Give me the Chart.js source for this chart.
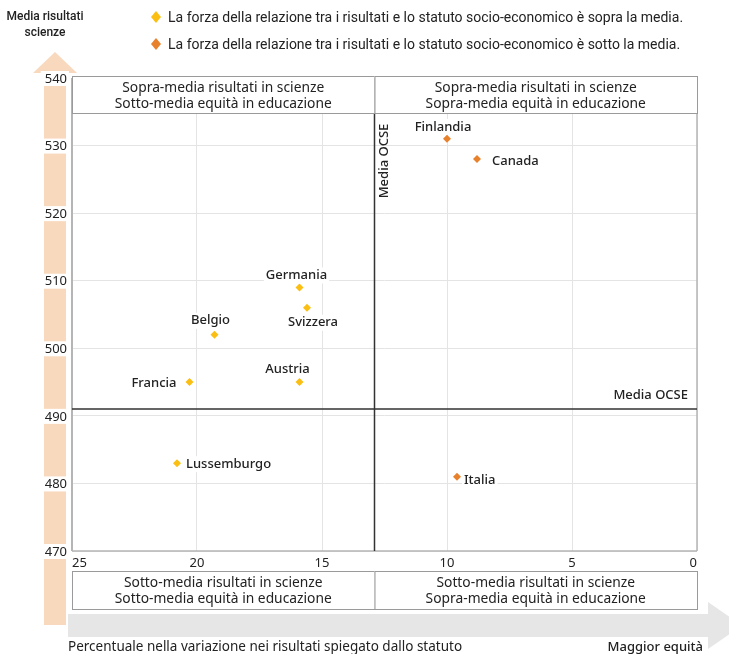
<!DOCTYPE html>
<html>
<head>
<meta charset="utf-8">
<script src="https://cdn.jsdelivr.net/npm/chart.js@4"></script>
<style>
  html, body { margin: 0; padding: 0; background: #fff; }
  #wrap { width: 729px; height: 654px; }
</style>
</head>
<body>
<div id="wrap"><canvas id="chart" width="729" height="654"></canvas></div>
<script>
// Dati
const xTicks = [25, 20, 15, 10, 5, 0];
const yTicks = [470, 480, 490, 500, 510, 520, 530, 540];

const aboveCountries = ['Germania', 'Svizzera', 'Belgio', 'Austria', 'Francia', 'Lussemburgo'];
const aboveEquity    = [15.9, 15.6, 19.3, 15.9, 20.3, 20.8];
const aboveScience   = [509, 506, 502, 495, 495, 483];

const belowCountries = ['Finlandia', 'Canada', 'Italia'];
const belowEquity    = [10.0, 8.8, 9.6];
const belowScience   = [531, 528, 481];

const oecdEquity  = 12.9;
const oecdScience = 491;

const legendLabels = [
  'La forza della relazione tra i risultati e lo statuto socio-economico è sopra la media.',
  'La forza della relazione tra i risultati e lo statuto socio-economico è sotto la media.',
];
const quadrantTop    = [['Sopra-media risultati in scienze', 'Sotto-media equità in educazione'],
                        ['Sopra-media risultati in scienze', 'Sopra-media equità in educazione']];
const quadrantBottom = [['Sotto-media risultati in scienze', 'Sotto-media equità in educazione'],
                        ['Sotto-media risultati in scienze', 'Sopra-media equità in educazione']];

// posizione etichette: [dx, dy, allineamento]
const labelPlacement = {
  Germania:    [-3, -12, 'center'],
  Svizzera:    [6, 15, 'center'],
  Belgio:      [-4, -14, 'center'],
  Austria:     [-12, -13, 'center'],
  Francia:     [-13, 1, 'right'],
  Lussemburgo: [9, 1, 'left'],
  Finlandia:   [-4, -12, 'center'],
  Canada:      [15, 2, 'left'],
  Italia:      [7, 4, 'left'],
};

const YELLOW = '#fbbf14';
const ORANGE = '#e8812c';
const PEACH  = '#f9d9bd';
const TEXT   = '#222';
const LABEL_FONT = '500 13px "Noto Sans", sans-serif';
const BOX_FONT   = '13.8px "Noto Sans", sans-serif';
const LEGEND_FONT = '14px Roboto, sans-serif';

const toPoints = (xs, ys) => xs.map((x, i) => ({ x, y: ys[i] }));

const decorations = {
  id: 'decorations',
  beforeDraw(chart) {
    const { ctx, width, height } = chart;
    ctx.save();
    ctx.fillStyle = '#fff';
    ctx.fillRect(0, 0, width, height);

    // freccia verticale (risultati)
    ctx.fillStyle = PEACH;
    ctx.fillRect(44, 73, 22, 552);
    ctx.beginPath();
    ctx.moveTo(33, 73); ctx.lineTo(55, 52); ctx.lineTo(77, 73); ctx.closePath();
    ctx.fill();

    // freccia orizzontale (equità)
    ctx.fillStyle = '#e6e6e6';
    ctx.fillRect(68, 614, 642, 23);
    ctx.beginPath();
    ctx.moveTo(708, 602); ctx.lineTo(742, 625.5); ctx.lineTo(708, 649); ctx.closePath();
    ctx.fill();
    ctx.restore();
  },
  beforeDatasetsDraw(chart) {
    const { ctx, chartArea: a, scales: { x, y } } = chart;
    ctx.save();
    // cornice
    ctx.strokeStyle = '#b5b5b5';
    ctx.lineWidth = 2;
    ctx.beginPath();
    ctx.moveTo(a.left, a.top); ctx.lineTo(a.left, a.bottom); ctx.stroke();
    ctx.lineWidth = 1.5;
    ctx.beginPath();
    ctx.moveTo(a.left, a.bottom); ctx.lineTo(a.right, a.bottom);
    ctx.moveTo(a.right, a.top); ctx.lineTo(a.right, a.bottom);
    ctx.stroke();

    // medie OCSE
    const mx = x.getPixelForValue(oecdEquity);
    const my = y.getPixelForValue(oecdScience);
    ctx.strokeStyle = '#333';
    ctx.lineWidth = 1.5;
    ctx.beginPath();
    ctx.moveTo(mx, a.top); ctx.lineTo(mx, a.bottom);
    ctx.moveTo(a.left, my); ctx.lineTo(a.right, my);
    ctx.stroke();

    ctx.fillStyle = TEXT;
    ctx.font = LABEL_FONT;
    ctx.textBaseline = 'middle';
    ctx.textAlign = 'right';
    ctx.fillText('Media OCSE', a.right - 9, my - 14);
    ctx.save();
    ctx.translate(mx + 10, 161);
    ctx.rotate(-Math.PI / 2);
    ctx.textAlign = 'center';
    ctx.fillText('Media OCSE', 0, 0);
    ctx.restore();
    ctx.restore();
  },
  afterDatasetsDraw(chart) {
    const { ctx, chartArea: a, scales: { x, y } } = chart;
    ctx.save();

    // etichette paesi
    ctx.font = LABEL_FONT;
    ctx.textBaseline = 'middle';
    chart.data.datasets.forEach(ds => {
      ds.data.forEach((p, i) => {
        const name = ds.names[i];
        const [dx, dy, align] = labelPlacement[name];
        const px = x.getPixelForValue(p.x) + dx;
        const py = y.getPixelForValue(p.y) + dy;
        const w = ctx.measureText(name).width;
        let left = px;
        if (align === 'center') left = px - w / 2;
        if (align === 'right') left = px - w;
        ctx.fillStyle = '#fff';
        ctx.fillRect(left - 2, py - 8, w + 4, 16);
        ctx.fillStyle = TEXT;
        ctx.textAlign = align;
        ctx.fillText(name, px, py);
      });
    });

    // riquadri dei quadranti
    const mx = x.getPixelForValue(oecdEquity);
    const boxes = [
      [a.left, mx, 76, 113, quadrantTop[0]],
      [mx, a.right, 76, 113, quadrantTop[1]],
      [a.left, mx, 571, 609, quadrantBottom[0]],
      [mx, a.right, 571, 609, quadrantBottom[1]],
    ];
    ctx.font = BOX_FONT;
    ctx.textAlign = 'center';
    boxes.forEach(([l, r, t, b, lines]) => {
      ctx.fillStyle = '#fff';
      ctx.fillRect(l, t, r - l, b - t);
      ctx.strokeStyle = '#9a9a9a';
      ctx.lineWidth = 1;
      ctx.strokeRect(l + 0.5, t + 0.5, r - l, b - t);
      ctx.fillStyle = TEXT;
      ctx.fillText(lines[0], (l + r) / 2, t + 12.5);
      ctx.fillText(lines[1], (l + r) / 2, t + 28.5);
    });

    // etichette asse y
    ctx.font = '13px "Noto Sans", sans-serif';
    ctx.textAlign = 'right';
    yTicks.forEach(v => {
      const py = y.getPixelForValue(v);
      const w = ctx.measureText(String(v)).width;
      ctx.fillStyle = '#fff';
      ctx.fillRect(67 - w - 4, py - 7, w + 6, 15);
      ctx.fillStyle = TEXT;
      ctx.fillText(String(v), 67, py + 1);
    });

    // etichette asse x
    xTicks.forEach((v, i) => {
      const px = x.getPixelForValue(v);
      const align = i === 0 ? 'left' : (i === xTicks.length - 1 ? 'right' : 'center');
      const w = ctx.measureText(String(v)).width;
      let left = align === 'left' ? px : (align === 'right' ? px - w : px - w / 2);
      ctx.fillStyle = '#fff';
      ctx.fillRect(left - 2, a.bottom + 4, w + 4, 15);
      ctx.fillStyle = TEXT;
      ctx.textAlign = align;
      ctx.fillText(String(v), px, a.bottom + 12);
    });

    // titolo asse y
    ctx.font = '500 12px Roboto, sans-serif';
    ctx.textAlign = 'center';
    ctx.fillText('Media risultati', 45, 17);
    ctx.fillText('scienze', 45, 33);

    // legenda
    const colors = [YELLOW, ORANGE];
    ctx.font = LEGEND_FONT;
    ctx.textAlign = 'left';
    legendLabels.forEach((txt, i) => {
      const cy = 17 + i * 27;
      ctx.fillStyle = colors[i];
      ctx.beginPath();
      ctx.moveTo(156, cy - 6); ctx.lineTo(161, cy); ctx.lineTo(156, cy + 6); ctx.lineTo(151, cy);
      ctx.closePath();
      ctx.fill();
      ctx.fillStyle = TEXT;
      ctx.fillText(txt, 168, cy + 1);
    });

    // titolo asse x
    ctx.font = '13.5px "Noto Sans", sans-serif';
    ctx.textAlign = 'left';
    ctx.fillText('Percentuale nella variazione nei risultati spiegato dallo statuto', 68, 647);
    ctx.font = '500 13px "Noto Sans", sans-serif';
    ctx.textAlign = 'right';
    ctx.fillText('Maggior equità', 703, 647);
    ctx.restore();
  },
};

new Chart(document.getElementById('chart'), {
  type: 'scatter',
  data: {
    datasets: [
      {
        label: 'sopra la media',
        names: aboveCountries,
        data: toPoints(aboveEquity, aboveScience),
        backgroundColor: YELLOW,
        borderColor: YELLOW,
        pointStyle: 'rectRot',
        pointRadius: 4,
        borderWidth: 0,
      },
      {
        label: 'sotto la media',
        names: belowCountries,
        data: toPoints(belowEquity, belowScience),
        backgroundColor: ORANGE,
        borderColor: ORANGE,
        pointStyle: 'rectRot',
        pointRadius: 4,
        borderWidth: 0,
      },
    ],
  },
  options: {
    responsive: false,
    animation: false,
    layout: { padding: { left: 72, right: 32, top: 78, bottom: 103 } },
    plugins: { legend: { display: false }, tooltip: { enabled: false } },
    scales: {
      x: {
        type: 'linear',
        reverse: true,
        min: 0,
        max: 25,
        ticks: { display: false, stepSize: 5 },
        grid: { color: '#e4e4e4', drawTicks: false },
        border: { display: false },
        afterFit: s => { s.height = 0; },
      },
      y: {
        type: 'linear',
        min: 470,
        max: 540,
        ticks: { display: false, stepSize: 10 },
        grid: { color: '#e4e4e4', drawTicks: false },
        border: { display: false },
        afterFit: s => { s.width = 0; },
      },
    },
  },
  plugins: [decorations],
});
</script>
</body>
</html>
